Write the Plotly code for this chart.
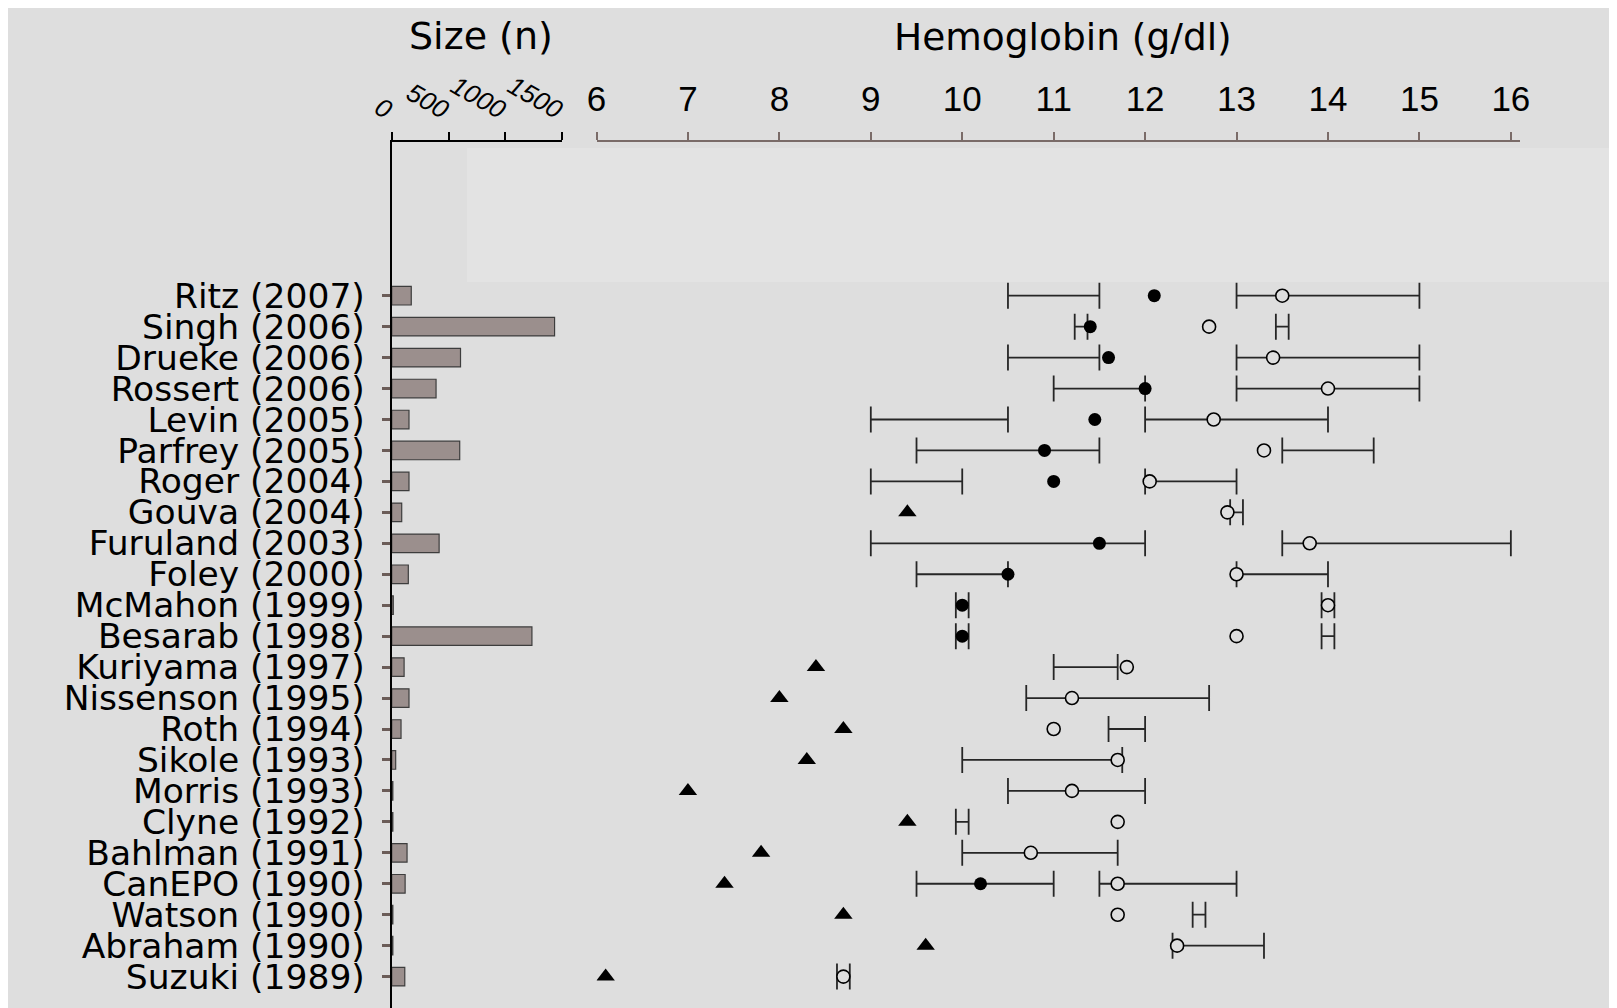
import plotly.graph_objects as go

# ---------------- data ----------------
studies = ["Ritz (2007)", "Singh (2006)", "Drueke (2006)", "Rossert (2006)", "Levin (2005)",
           "Parfrey (2005)", "Roger (2004)", "Gouva (2004)", "Furuland (2003)", "Foley (2000)",
           "McMahon (1999)", "Besarab (1998)", "Kuriyama (1997)", "Nissenson (1995)", "Roth (1994)",
           "Sikole (1993)", "Morris (1993)", "Clyne (1992)", "Bahlman (1991)", "CanEPO (1990)",
           "Watson (1990)", "Abraham (1990)", "Suzuki (1989)"]

sizes = [172, 1432, 605, 390, 152, 598, 152, 88, 417, 146, 14, 1233,
         109, 152, 82, 35, 10, 10, 135, 118, 10, 10, 115]

# low-Hb arm target range
low_lo = [10.5, 11.23, 10.5, 11.0, 9.0, 9.5, 9.0, None, 9.0, 9.5, 9.93, 9.93,
          None, None, None, None, None, None, None, 9.5, None, None, None]
low_hi = [11.5, 11.37, 11.5, 12.0, 10.5, 11.5, 10.0, None, 12.0, 10.5, 10.07, 10.07,
          None, None, None, None, None, None, None, 11.0, None, None, None]
# low-Hb arm achieved (filled circles)
low_achieved = [12.1, 11.4, 11.6, 12.0, 11.45, 10.9, 11.0, None, 11.5, 10.5, 10.0, 10.0,
                None, None, None, None, None, None, None, 10.2, None, None, None]
# control / baseline (triangles)
control_hb = [None, None, None, None, None, None, None, 9.4, None, None, None, None,
              8.4, 8.0, 8.7, 8.3, 7.0, 9.4, 7.8, 7.4, 8.7, 9.6, 6.1]
# high-Hb arm target range
high_lo = [13.0, 13.43, 13.0, 13.0, 12.0, 13.5, 12.0, 12.93, 13.5, 13.0, 13.93, 13.93,
           11.0, 10.7, 11.6, 10.0, 10.5, 9.93, 10.0, 11.5, 12.52, 12.3, 8.63]
high_hi = [15.0, 13.57, 15.0, 15.0, 14.0, 14.5, 13.0, 13.07, 16.0, 14.0, 14.07, 14.07,
           11.7, 12.7, 12.0, 11.75, 12.0, 10.07, 11.7, 13.0, 12.66, 13.3, 8.77]
# high-Hb arm achieved (open circles)
high_achieved = [13.5, 12.7, 13.4, 14.0, 12.75, 13.3, 12.05, 12.9, 13.8, 13.0, 14.0, 13.0,
                 11.8, 11.2, 11.0, 11.7, 11.2, 11.7, 10.75, 11.7, 11.7, 12.35, 8.7]

size_ticks = [0, 500, 1000, 1500]
hb_ticks = [6, 7, 8, 9, 10, 11, 12, 13, 14, 15, 16]

# ---------------- figure ----------------
W, H = 1609, 1000
BG = "#dedede"
rows = list(range(len(studies)))

fig = go.Figure()

fig.add_trace(go.Bar(
    x=sizes, y=rows, orientation="h", xaxis="x", yaxis="y", width=0.6,
    marker=dict(color="#9b8f8d", line=dict(color="#3d3d3d", width=1.2)),
    showlegend=False, hoverinfo="skip"))


def range_trace(lo, hi):
    xs, ys, es = [], [], []
    for i, (a, b) in enumerate(zip(lo, hi)):
        if a is None:
            continue
        xs.append((a + b) / 2)
        ys.append(i)
        es.append((b - a) / 2)
    return go.Scatter(
        x=xs, y=ys, mode="markers", xaxis="x2", yaxis="y",
        marker=dict(size=1, color="rgba(0,0,0,0)"),
        error_x=dict(type="data", array=es, symmetric=True, width=13,
                     thickness=1.8, color="#262626"),
        showlegend=False, hoverinfo="skip")


fig.add_trace(range_trace(low_lo, low_hi))
fig.add_trace(range_trace(high_lo, high_hi))


def point_trace(vals, **marker):
    xs, ys = [], []
    for i, v in enumerate(vals):
        if v is None:
            continue
        xs.append(v)
        ys.append(i)
    return go.Scatter(x=xs, y=ys, mode="markers", xaxis="x2", yaxis="y",
                      marker=marker, showlegend=False, hoverinfo="skip")


fig.add_trace(point_trace(control_hb, symbol="triangle-up", size=16, color="black"))
fig.add_trace(point_trace(low_achieved, symbol="circle", size=13, color="black"))
fig.add_trace(point_trace(high_achieved, symbol="circle", size=13, color=BG,
                          line=dict(color="black", width=1.6)))

ax_top = 133.7

fig.update_layout(
    width=W, height=H,
    margin=dict(l=0, r=0, t=0, b=0, pad=0),
    paper_bgcolor=BG, plot_bgcolor="rgba(0,0,0,0)",
    showlegend=False,
    xaxis=dict(domain=[383.7 / W, 554.3 / W], range=[0, 1500], side="top", anchor="y",
               tickvals=size_ticks, ticktext=[str(t) for t in size_ticks],
               ticks="outside", ticklen=8, tickwidth=1.5, tickcolor="black",
               showline=True, linecolor="black", linewidth=2,
               showgrid=False, zeroline=False, tickangle=30, ticklabelstandoff=0,
               tickfont=dict(family="Liberation Sans", size=26, style="italic", color="black"),
               automargin=False),
    xaxis2=dict(domain=[588.5 / W, 1512 / W], range=[6, 16.1], side="top", anchor="y",
                tickvals=hb_ticks, ticks="outside", ticklen=8, tickwidth=1.5,
                tickcolor="#7a6b68", showline=True, linecolor="#7a6b68", linewidth=2,
                showgrid=False, zeroline=False, ticklabelstandoff=7,
                tickfont=dict(family="Liberation Sans", size=35, color="black"),
                automargin=False),
    yaxis=dict(domain=[0, 1 - ax_top / H], range=[23.014, -4.976],
               tickvals=rows, ticktext=studies,
               ticks="outside", ticklen=8, tickwidth=2.5, tickcolor="#6b5c58",
               showline=True, linecolor="black", linewidth=2,
               showgrid=False, zeroline=False, ticklabelstandoff=10,
               tickfont=dict(family="DejaVu Sans", size=34.5, color="black"),
               automargin=False),
    shapes=[
        dict(type="rect", xref="paper", yref="paper", x0=459 / W, x1=1,
             y0=1 - 274 / H, y1=1 - 140 / H, fillcolor="#e3e3e3",
             line=dict(width=0), layer="below"),
    ],
    annotations=[
        dict(text="Size (n)", xref="paper", yref="paper", x=472.5 / W, y=1 - 28 / H,
             xanchor="center", yanchor="middle", showarrow=False,
             font=dict(family="DejaVu Sans", size=38, color="black")),
        dict(text="Hemoglobin (g/dl)", xref="paper", yref="paper", x=1054.5 / W, y=1 - 29 / H,
             xanchor="center", yanchor="middle", showarrow=False,
             font=dict(family="DejaVu Sans", size=37.5, color="black")),
    ],
)

fig.write_html("out.html")
